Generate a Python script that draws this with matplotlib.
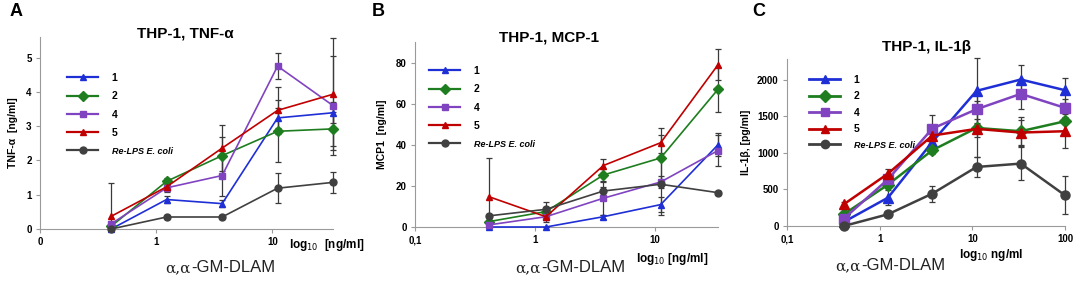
import matplotlib
matplotlib.use('Agg')
import matplotlib.pyplot as plt
from matplotlib.lines import Line2D

plt.rcParams['font.family'] = ['Liberation Sans', 'DejaVu Sans']

W, H = 1084, 284

# doses (ng/ml)
doses = [0.41, 1.23, 3.7, 11.1, 33.3]
doses_c = [0.41, 1.23, 3.7, 11.1, 33.3, 100]

labels = ['1', '2', '4', '5', 'Re-LPS E. coli']

# panel A, TNF-a [ng/ml]
tnf_1 = [0.0, 0.86, 0.74, 3.24, 3.39]
tnf_2 = [0.08, 1.39, 2.14, 2.85, 2.92]
tnf_4 = [0.15, 1.2, 1.56, 4.75, 3.6]
tnf_5 = [0.37, 1.23, 2.36, 3.46, 3.93]
tnf_lps = [0.0, 0.35, 0.35, 1.19, 1.36]
tnf_1_err = [0.05, 0.1, 0.1, 0.3, 0.3]
tnf_2_err = [0.05, 0.1, 0.55, 0.9, 0.5]
tnf_4_err = [0.05, 0.1, 0.6, 0.37, 1.44]
tnf_5_err = [0.96, 0.15, 0.68, 0.68, 1.64]
tnf_lps_err = [0.0, 0.05, 0.05, 0.43, 0.31]

# panel B, MCP1 [ng/ml]
mcp_1 = [0.0, 0.0, 5.0, 10.9, 40.0]
mcp_2 = [2.6, 7.5, 25.3, 33.6, 67.0]
mcp_4 = [1.0, 5.0, 14.0, 21.9, 37.2]
mcp_5 = [14.8, 5.0, 29.9, 41.0, 78.9]
mcp_lps = [5.4, 8.6, 17.5, 20.8, 16.7]
mcp_1_err = [0, 0, 1, 3.5, 5.5]
mcp_2_err = [1, 2, 3, 11.4, 11]
mcp_4_err = [1, 1, 8, 3, 7.7]
mcp_5_err = [18.8, 2.5, 3.4, 7, 7.5]
mcp_lps_err = [0, 3.4, 2, 15, 1]

# panel C, IL-1b [pg/ml]
il_1 = [55, 387, 1148, 1845, 2000, 1854]
il_2 = [160, 565, 1034, 1339, 1294, 1430]
il_4 = [100, 638, 1330, 1594, 1804, 1613]
il_5 = [296, 715, 1235, 1326, 1276, 1294]
il_lps = [0, 160, 442, 806, 852, 419]
il_1_err = [20, 100, 60, 445, 200, 170]
il_2_err = [30, 50, 50, 120, 200, 150]
il_4_err = [30, 60, 190, 200, 200, 120]
il_5_err = [30, 60, 60, 380, 170, 230]
il_lps_err = [0, 20, 110, 140, 220, 260]

colors = ['#1f2fd6', '#1e7d1e', '#8044c0', '#c00000', '#404040']
markers = ['^', 'D', 's', '^', 'o']


def px(x0, y0, x1, y1):
    # pixel box (left, top, right, bottom) -> figure fraction
    return [x0 / W, 1 - y1 / H, (x1 - x0) / W, (y1 - y0) / H]


def panel(ax, x, series, errs, ylim, yticks, xlim, xticks, xticklabels, ms, lw):
    for s, e, c, m in zip(series, errs, colors, markers):
        # error bars stop at the x axis
        lower = [min(ei, si) for si, ei in zip(s, e)]
        ax.errorbar(x, s, yerr=[lower, e], color=c, marker=m, ms=ms, lw=lw, mec=c,
                    ecolor='#3a3a3a', elinewidth=0.9, capsize=2, capthick=0.9,
                    clip_on=False, zorder=3)
    ax.set_xscale('log')
    ax.set_xlim(*xlim)
    ax.set_ylim(*ylim)
    ax.set_xticks(xticks)
    ax.set_xticklabels(xticklabels)
    ax.minorticks_off()
    ax.set_yticks(yticks)
    for sp in ['top', 'right']:
        ax.spines[sp].set_visible(False)
    for sp in ['left', 'bottom']:
        ax.spines[sp].set_color('#9a9a9a')
    ax.tick_params(length=3, color='#9a9a9a', labelsize=7, pad=3)
    for t in ax.get_xticklabels() + ax.get_yticklabels():
        t.set_fontweight('bold')


def add_legend(ax, x, y, spacing, ms, lw):
    handles = [Line2D([], [], color=c, marker=m, ms=ms, lw=lw + 0.4)
               for c, m in zip(colors, markers)]
    leg = ax.legend(handles, labels, loc='upper left', bbox_to_anchor=(x / W, 1 - y / H),
                    bbox_transform=fig.transFigure, frameon=False, fontsize=7.5,
                    handlelength=3.0, handletextpad=1.3, labelspacing=spacing,
                    borderpad=0, borderaxespad=0)
    for i, t in enumerate(leg.get_texts()):
        t.set_fontweight('bold')
        if i == 4:
            t.set_fontstyle('italic')
            t.set_fontsize(6.5)


def xlabel(cx, cy):
    fig.text(cx / W, 1 - cy / H, 'α,α', family='DejaVu Serif', fontsize=11,
             ha='right', va='center', color='#222222')
    fig.text(cx / W, 1 - cy / H, '-GM-DLAM', fontsize=12,
             ha='left', va='center', color='#222222')


fig = plt.figure(figsize=(W / 100, H / 100), dpi=100)

axA = fig.add_axes(px(40, 37, 333, 229))
panel(axA, doses, [tnf_1, tnf_2, tnf_4, tnf_5, tnf_lps],
      [tnf_1_err, tnf_2_err, tnf_4_err, tnf_5_err, tnf_lps_err],
      (0, 5.6), [0, 1, 2, 3, 4, 5], (0.1, 33.3), [0.1, 1, 10], ['0', '1', '10'], 5, 1.2)
add_legend(axA, 67, 73, 0.8, 5, 1.2)
axA.set_ylabel('TNF-α  [ng/ml]', fontsize=7.5, fontweight='bold', labelpad=6)

axB = fig.add_axes(px(415, 42, 718, 227))
panel(axB, doses, [mcp_1, mcp_2, mcp_4, mcp_5, mcp_lps],
      [mcp_1_err, mcp_2_err, mcp_4_err, mcp_5_err, mcp_lps_err],
      (0, 90), [0, 20, 40, 60, 80], (0.1, 33.3), [0.1, 1, 10], ['0,1', '1', '10'], 5, 1.2)
add_legend(axB, 429, 66, 0.8, 5, 1.2)
axB.set_ylabel('MCP1  [ng/ml]', fontsize=7.5, fontweight='bold', labelpad=6)

axC = fig.add_axes(px(787, 59, 1065, 226))
panel(axC, doses_c, [il_1, il_2, il_4, il_5, il_lps],
      [il_1_err, il_2_err, il_4_err, il_5_err, il_lps_err],
      (0, 2280), [0, 500, 1000, 1500, 2000], (0.1, 100), [0.1, 1, 10, 100],
      ['0,1', '1', '10', '100'], 6.5, 1.8)
add_legend(axC, 809, 75, 0.62, 6, 1.6)
axC.set_ylabel('IL-1β, [pg/ml]', fontsize=7.5, fontweight='bold', labelpad=4)

# titles
fig.text(185 / W, 1 - 33 / H, 'THP-1, TNF-α', fontsize=11, fontweight='bold', ha='center', va='center')
fig.text(549 / W, 1 - 38 / H, 'THP-1, MCP-1', fontsize=11, fontweight='bold', ha='center', va='center')
fig.text(927 / W, 1 - 47 / H, 'THP-1, IL-1β', fontsize=11, fontweight='bold', ha='center', va='center')

# panel letters
for lx, lt in [(10, 'A'), (372, 'B'), (752, 'C')]:
    fig.text(lx / W, 1 - 11 / H, lt, fontsize=13, fontweight='bold', ha='left', va='center')

# unit labels under the x axes
fig.text(289 / W, 1 - 245 / H, 'log$_{10}$  [ng/ml]', fontsize=8.5, fontweight='bold', ha='left', va='center')
fig.text(636 / W, 1 - 259 / H, 'log$_{10}$ [ng/ml]', fontsize=8.5, fontweight='bold', ha='left', va='center')
fig.text(959 / W, 1 - 255 / H, 'log$_{10}$ ng/ml', fontsize=8.5, fontweight='bold', ha='left', va='center')

xlabel(191, 268)
xlabel(541, 268)
xlabel(861, 266)

fig.savefig('out.png', dpi=100)
